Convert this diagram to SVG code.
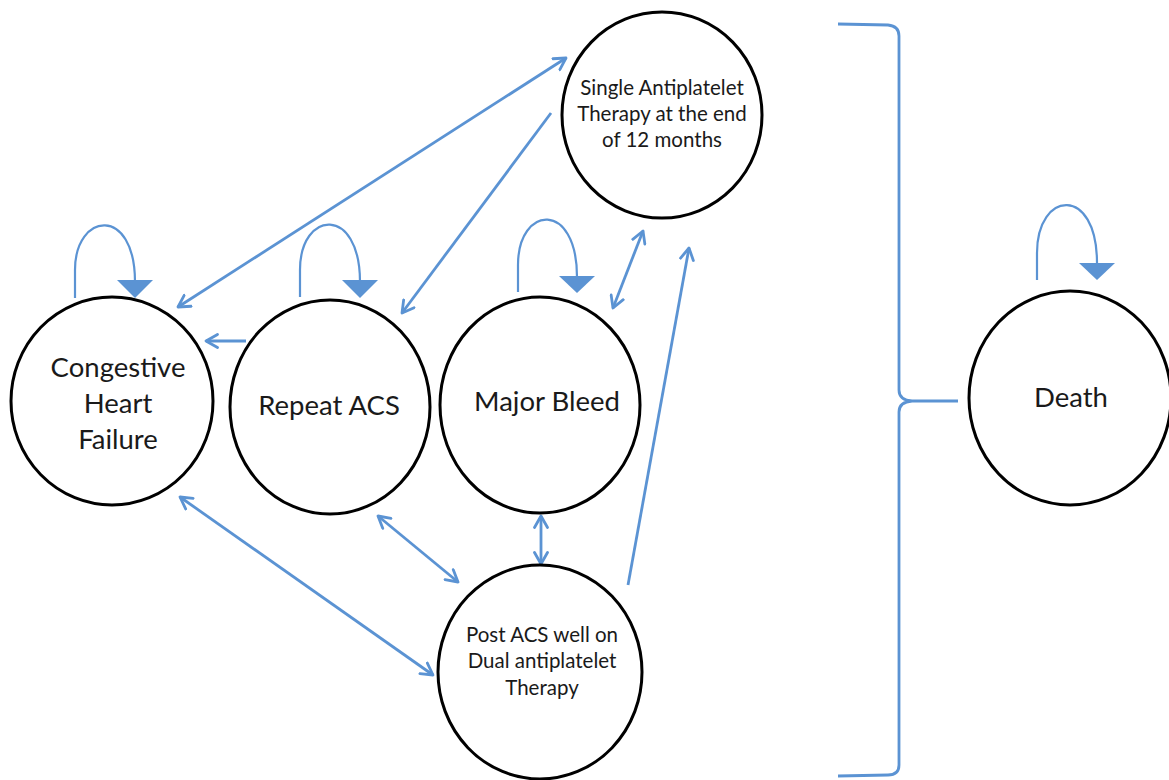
<svg xmlns="http://www.w3.org/2000/svg" width="1169" height="780" viewBox="0 0 1169 780">
<style>
.node{fill:#ffffff;stroke:#000000;stroke-width:3}
.lbl{font-family:Lato,"Liberation Sans",sans-serif;fill:#1a1a1a;text-anchor:middle}
.big{font-size:27.5px}
.small{font-size:20.5px}
.conn{fill:none;stroke:#5B93D3;stroke-width:2.8}
.loop{fill:none;stroke:#5B93D3;stroke-width:2.2}
.tri{fill:#5B93D3;stroke:none}
</style>
<defs>
<marker id="ah" viewBox="0 0 16 16" refX="13" refY="8" markerWidth="16" markerHeight="16" markerUnits="userSpaceOnUse" orient="auto-start-reverse">
<path d="M1.5,1.5 L13,8 L1.5,14.5" fill="none" stroke="#5B93D3" stroke-width="2.8" stroke-linecap="round" stroke-linejoin="round"/>
</marker>
</defs>
<rect width="1169" height="780" fill="#ffffff"/>

<g id="connectors">
<line class="conn" x1="178" y1="307" x2="566" y2="58" marker-start="url(#ah)" marker-end="url(#ah)"/>
<line class="conn" x1="551" y1="113" x2="402" y2="313" marker-end="url(#ah)"/>
<line class="conn" x1="246" y1="341" x2="206" y2="341" marker-end="url(#ah)"/>
<line class="conn" x1="613" y1="308" x2="643" y2="231" marker-start="url(#ah)" marker-end="url(#ah)"/>
<line class="conn" x1="628" y1="585" x2="689" y2="248" marker-end="url(#ah)"/>
<line class="conn" x1="541" y1="516" x2="541" y2="564" marker-start="url(#ah)" marker-end="url(#ah)"/>
<line class="conn" x1="378" y1="516" x2="458" y2="582" marker-start="url(#ah)" marker-end="url(#ah)"/>
<line class="conn" x1="180" y1="497" x2="433" y2="675" marker-start="url(#ah)" marker-end="url(#ah)"/>
<path class="conn" d="M838,24 L888,25 Q899,26 899,36 L899,390 Q899,400 912,401 L958,401 M899,412 Q899,402 912,401 M899,412 L899,765 Q899,775 888,775 L838,776"/>
<path class="loop" d="M75,298 L75,270 C75,212 135,205 135,282"/>
<polygon class="tri" points="117,280 153,280 135,298"/>
<path class="loop" d="M300,297 L300,270 C300,210 360,205 360,282"/>
<polygon class="tri" points="342,280 378,280 360,298"/>
<path class="loop" d="M518,292 L518,265 C518,205 577,200 577,277"/>
<polygon class="tri" points="559,276 595,276 577,293"/>
<path class="loop" d="M1037,280 L1037,253 C1037,190 1097,185 1097,263"/>
<polygon class="tri" points="1079,263 1115,263 1097,280"/>
</g>

<g id="node-chf">
<ellipse class="node" cx="112" cy="401" rx="101" ry="104"/>
<text class="lbl big" x="118" y="377">Congestive</text>
<text class="lbl big" x="118" y="413">Heart</text>
<text class="lbl big" x="118" y="449">Failure</text>
</g>
<g id="node-repeat-acs">
<ellipse class="node" cx="330" cy="407" rx="100" ry="107"/>
<text class="lbl big" x="329" y="415">Repeat ACS</text>
</g>
<g id="node-major-bleed">
<ellipse class="node" cx="540" cy="405" rx="100" ry="108"/>
<text class="lbl big" x="547" y="411">Major Bleed</text>
</g>
<g id="node-single">
<ellipse class="node" cx="662" cy="115" rx="100" ry="103"/>
<text class="lbl small" x="662" y="95">Single Antiplatelet</text>
<text class="lbl small" x="662" y="121">Therapy at the end</text>
<text class="lbl small" x="662" y="147">of 12 months</text>
</g>
<g id="node-post-acs">
<ellipse class="node" cx="540" cy="672" rx="102" ry="107"/>
<text class="lbl small" x="542" y="642">Post ACS well on</text>
<text class="lbl small" x="542" y="668">Dual antiplatelet</text>
<text class="lbl small" x="542" y="695">Therapy</text>
</g>
<g id="node-death">
<ellipse class="node" cx="1070" cy="398" rx="101" ry="107"/>
<text class="lbl big" x="1071" y="407">Death</text>
</g>
</svg>
